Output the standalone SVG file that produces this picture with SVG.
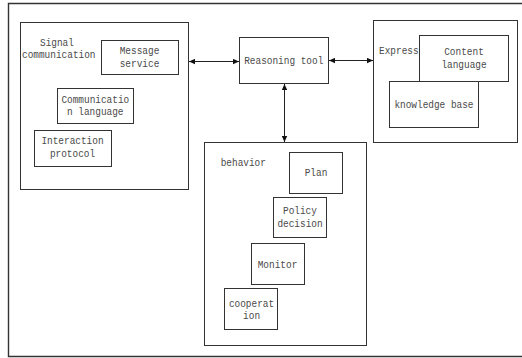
<svg xmlns="http://www.w3.org/2000/svg" width="522" height="358" viewBox="0 0 522 358">
<style>
rect{fill:#fff;stroke:#333;stroke-width:1}
#frame path{fill:none;stroke:#333;stroke-width:1.4}
text{font-family:"Liberation Mono","DejaVu Sans Mono",monospace;font-size:11.5px;fill:#4a4a4a}
.c line{stroke:#222;stroke-width:1}
</style>
<defs>
<marker id="ah" viewBox="0 0 6 6" refX="6" refY="3" markerWidth="6" markerHeight="6" markerUnits="userSpaceOnUse" orient="auto-start-reverse">
<path d="M0,0.3 L6,3 L0,5.7 Z" fill="#111"/>
</marker>
</defs>
<g id="frame"><path d="M522,3.5 H8.5 V356.5 H522"/></g>

<g id="signal">
<rect x="20.5" y="22.5" width="168" height="167"/>
<text x="40" y="45.5" textLength="33.9" lengthAdjust="spacingAndGlyphs">Signal</text>
<text x="22" y="58.3" textLength="73.5" lengthAdjust="spacingAndGlyphs">communication</text>
</g>
<g id="message">
<rect x="101.5" y="40.5" width="77" height="34"/>
<text x="119.7" y="54.3" textLength="39.6" lengthAdjust="spacingAndGlyphs">Message</text>
<text x="119.7" y="66.8" textLength="39.6" lengthAdjust="spacingAndGlyphs">service</text>
</g>
<g id="commlang">
<rect x="57.5" y="88.5" width="76" height="35"/>
<text x="61.4" y="103.3" textLength="67.8" lengthAdjust="spacingAndGlyphs">Communicatio</text>
<text x="67" y="115.3" textLength="56.5" lengthAdjust="spacingAndGlyphs">n language</text>
</g>
<g id="interaction">
<rect x="34.5" y="130.5" width="77" height="36"/>
<text x="41.4" y="144.3" textLength="62.2" lengthAdjust="spacingAndGlyphs">Interaction</text>
<text x="49.9" y="157.3" textLength="45.2" lengthAdjust="spacingAndGlyphs">protocol</text>
</g>

<g id="reasoning">
<rect x="239.5" y="37.5" width="89" height="46"/>
<text x="244.2" y="64.3" textLength="79.1" lengthAdjust="spacingAndGlyphs">Reasoning tool</text>
</g>

<g id="express">
<rect x="373.5" y="20.5" width="144" height="122"/>
<text x="379" y="54.3" textLength="39.6" lengthAdjust="spacingAndGlyphs">Express</text>
</g>
<g id="content">
<rect x="419.5" y="35.5" width="89" height="46"/>
<text x="444.2" y="55.3" textLength="39.6" lengthAdjust="spacingAndGlyphs">Content</text>
<text x="441.4" y="68.3" textLength="45.2" lengthAdjust="spacingAndGlyphs">language</text>
</g>
<g id="knowledge">
<rect x="389.5" y="81.5" width="89" height="46"/>
<text x="394.4" y="108.3" textLength="79.1" lengthAdjust="spacingAndGlyphs">knowledge base</text>
</g>

<g id="behavior">
<rect x="204.5" y="142.5" width="162" height="203"/>
<text x="220.7" y="166" textLength="45.2" lengthAdjust="spacingAndGlyphs">behavior</text>
</g>
<g id="plan">
<rect x="289.5" y="152.5" width="53" height="41"/>
<text x="304.7" y="175.7" textLength="22.6" lengthAdjust="spacingAndGlyphs">Plan</text>
</g>
<g id="policy">
<rect x="273.5" y="197.5" width="53" height="40"/>
<text x="283" y="214" textLength="33.9" lengthAdjust="spacingAndGlyphs">Policy</text>
<text x="277.4" y="226.7" textLength="45.2" lengthAdjust="spacingAndGlyphs">decision</text>
</g>
<g id="monitor">
<rect x="251.5" y="243.5" width="53" height="41"/>
<text x="257.7" y="267.7" textLength="39.6" lengthAdjust="spacingAndGlyphs">Monitor</text>
</g>
<g id="cooperation">
<rect x="224.5" y="288.5" width="53" height="41"/>
<text x="228.9" y="306.7" textLength="45.2" lengthAdjust="spacingAndGlyphs">cooperat</text>
<text x="243.1" y="318.5" textLength="17" lengthAdjust="spacingAndGlyphs">ion</text>
</g>

<g id="connectors" class="c">
<line x1="189" y1="61.5" x2="239" y2="61.5" marker-start="url(#ah)" marker-end="url(#ah)"/>
<line x1="329" y1="60.5" x2="373" y2="60.5" marker-start="url(#ah)" marker-end="url(#ah)"/>
<line x1="284.5" y1="84" x2="284.5" y2="142" marker-start="url(#ah)" marker-end="url(#ah)"/>
</g>
</svg>
